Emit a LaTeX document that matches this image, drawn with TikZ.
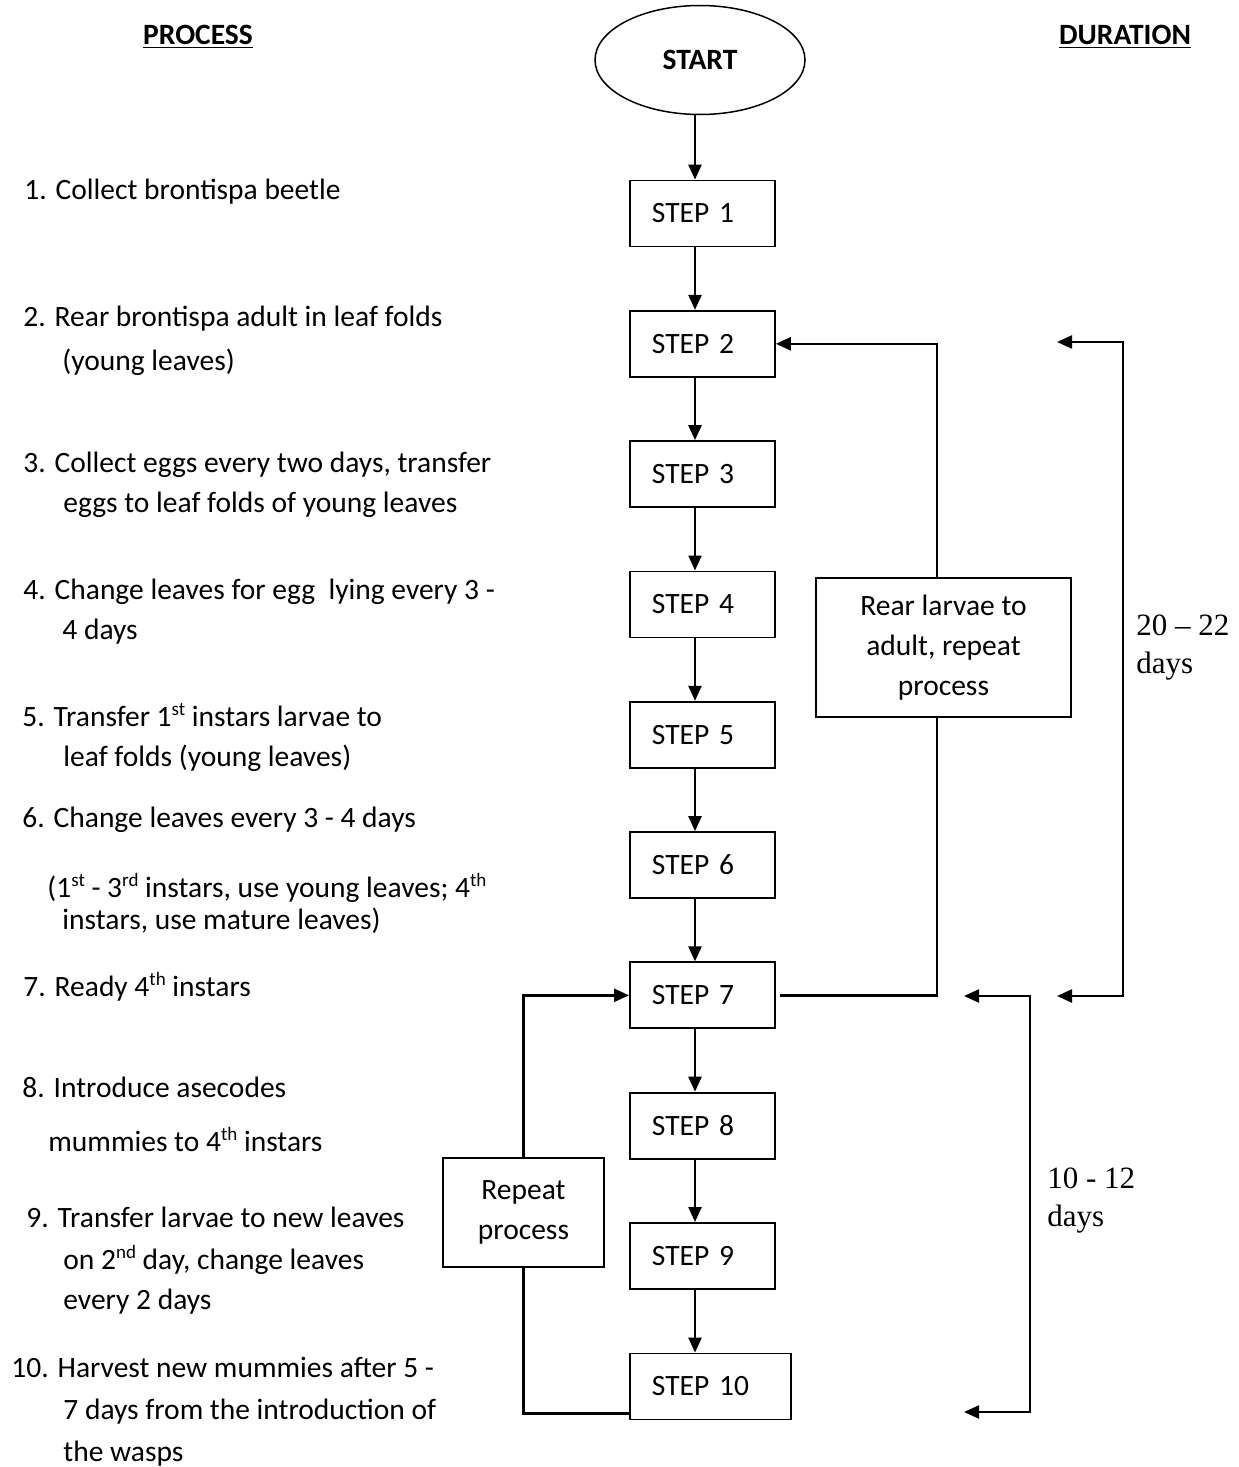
\documentclass[tikz,border=0pt]{standalone}
\usepackage{fontspec}
\setmainfont{Carlito}
\newfontfamily\durfont{Liberation Serif}
\usetikzlibrary{arrows.meta,shapes.geometric,positioning}
\newcommand\bodysize{\fontsize{14.75pt}{20pt}\selectfont}
\newcommand\ordsup[1]{\raisebox{5.5pt}{\fontsize{9.5pt}{9.5pt}\selectfont #1}}

\begin{document}
\begin{tikzpicture}[
    x=0.5pt, y=-0.5pt,
    every node/.style={font=\bodysize},
    stepbox/.style={rectangle, draw, line width=0.9pt, minimum height=33pt, text width=50.5pt, inner xsep=11pt, align=left, anchor=west},
    notebox/.style={rectangle, draw, line width=0.9pt, align=center},
    procline/.style={anchor=base west, inner sep=0pt},
    flow/.style={line width=1.2pt, -{Triangle[length=7.5pt,width=6.5pt]}},
    plain/.style={line width=1.2pt},
    span/.style={line width=1.2pt, {Triangle[length=7.5pt,width=6.5pt]}-{Triangle[length=7.5pt,width=6.5pt]}},
    dur/.style={font=\durfont\fontsize{15.5pt}{19pt}\selectfont, align=left, anchor=north west, inner sep=0pt}
]
\useasboundingbox (0,0) rectangle (1238,1467);

% Column headings
\node[font=\bodysize\bfseries] (process) at (198,37) {\underline{PROCESS}};
\node[font=\bodysize\bfseries] (duration) at (1125,37) {\underline{DURATION}};

% Start and the ten steps
\node[ellipse, draw, line width=0.75pt, minimum width=105pt, minimum height=54.5pt, font=\bodysize\bfseries] (start) at (700,60) {START};
\foreach \i in {1,...,9} {
    \pgfmathsetmacro\yy{213.5+130.3*(\i-1)}
    \node[stepbox] (s\i) at (629,\yy) {STEP \i};
}
\node[stepbox, text width=58.5pt] (s10) at (629,1386.5) {STEP 10};

% Main flow
\coordinate (s1in) at ([xshift=33pt]s1.north west);
\draw[flow] (s1in |- start.south) -- (s1in);
\foreach \i [evaluate=\i as \j using int(\i+1)] in {1,...,9}
    \draw[flow] ([xshift=33pt]s\i.south west) -- ([xshift=33pt]s\j.north west);

% Loops back
\node[notebox, minimum width=127.5pt, minimum height=69.5pt] (rear) at (943.5,647.5) {Rear larvae to\\adult, repeat\\process};
\node[notebox, minimum width=80.5pt, minimum height=54.5pt] (repeat) at (523.5,1212.5) {Repeat\\process};
\draw[plain] ([xshift=2pt]s7.east) -| ([xshift=-3.25pt]rear.south);
\draw[flow] ([xshift=-3.25pt]rear.north) |- (s2.east);
\draw[flow] (repeat.north) |- (s7.west);
\draw[plain] (repeat.south) |- ([yshift=3.5pt]s10.south west);

% Durations
\coordinate (d1top) at (1057,342);
\coordinate (d1bot) at (1057,996);
\draw[span] (d1top) -- ++(66,0) |- (d1bot);
\coordinate (d2top) at (964,996);
\coordinate (d2bot) at (964,1412);
\draw[span] (d2top) -- ++(66,0) |- (d2bot);
\node[dur] (dur1) at (1136,614) {20 – 22\\days};
\node[dur] (dur2) at (1047,1167) {10 - 12\\days};

% Process description
\foreach \x/\y/\t [count=\n] in {
    24/190/{1. Collect brontispa beetle},
    23/317/{2. Rear brontispa adult in leaf folds},
    62/361/{(young leaves)},
    23/463/{3. Collect eggs every two days, transfer},
    63/503/{eggs to leaf folds of young leaves},
    23/590/{4. Change leaves for egg\ \ lying every 3 -},
    62/630/{4 days},
    22/717/{5. Transfer 1\ordsup{st} instars larvae to},
    63/757/{leaf folds (young leaves)},
    22/818/{6. Change leaves every 3 - 4 days},
    47/888/{(1\ordsup{st} - 3\ordsup{rd} instars, use young leaves; 4\ordsup{th}},
    62/920/{instars, use mature leaves)},
    23/987/{7. Ready 4\ordsup{th} instars},
    22/1088/{8. Introduce asecodes},
    48/1142/{mummies to 4\ordsup{th} instars},
    26/1218/{9. Transfer larvae to new leaves},
    63/1260/{on 2\ordsup{nd} day, change leaves},
    63/1300/{every 2 days},
    11/1368/{10. Harvest new mummies after 5 -},
    63/1410/{7 days from the introduction of},
    63/1452/{the wasps}}
    \node[procline] (p\n) at (\x,\y+9) {\t};

\end{tikzpicture}
\end{document}
